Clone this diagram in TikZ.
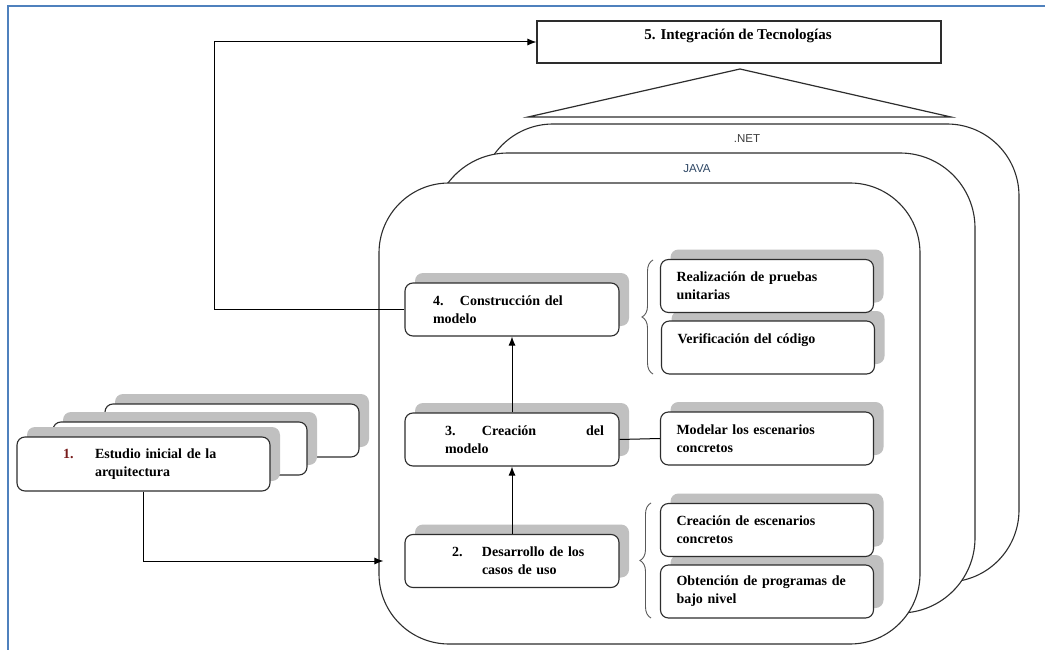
\documentclass[tikz,border=0pt]{standalone}
\usepackage{fontspec}
\setmainfont{Liberation Serif}
\newfontfamily\tagfont{Liberation Sans}
\usetikzlibrary{arrows.meta,shadows,decorations.pathreplacing,calc}

\definecolor{frameblue}{RGB}{79,129,189}
\definecolor{shade}{RGB}{192,192,192}
\definecolor{edge}{RGB}{45,45,45}
\definecolor{numred}{RGB}{120,28,28}
\definecolor{tagnet}{RGB}{60,60,60}
\definecolor{tagjava}{RGB}{45,70,100}

\newcommand\stepfont{\fontsize{14}{18}\selectfont\bfseries}

\begin{document}
\begin{tikzpicture}[x=1pt,y=-1pt,
  layer/.style={draw=edge, fill=white, line width=1.1pt},
  stepbox/.style={draw=edge, fill=white, line width=1.1pt, rounded corners=8pt,
    minimum height=53pt, inner xsep=0pt, inner ysep=0pt, align=left,
    font=\stepfont, text=black,
    drop shadow={shadow xshift=10pt, shadow yshift=10pt, fill=shade, opacity=1}},
  leftbox/.style={stepbox, text width=214pt, minimum width=214pt},
  rightbox/.style={stepbox, text width=181pt, minimum width=213pt, inner xsep=16pt},
  stackbox/.style={stepbox, text width=254pt, minimum width=254pt},
  titlebox/.style={draw=edge, fill=white, line width=1.1pt, minimum width=404pt,
    minimum height=42pt, inner sep=0pt},
  tag/.style={font=\tagfont\fontsize{11.5}{13}\selectfont, inner sep=0pt},
  arr/.style={draw=black, line width=1pt, -{Latex[length=9pt,width=7pt]}},
  link/.style={draw=black, line width=1pt},
  bracket/.style={draw=black!65, line width=0.9pt, decorate,
    decoration={brace, amplitude=11pt, aspect=0.5}}
]
\useasboundingbox (0,0) rectangle (1045,650);

% outer frame
\draw[frameblue, line width=2pt] (8,650) -- (8,6) -- (1045,6);

% roof over the technology layers
\draw[edge, line width=1.2pt, fill=white] (528,117) -- (740,69) -- (951,117) -- cycle;

% technology layers, back to front
\path[layer, rounded corners=72pt] (481,124) rectangle (1019,582);
\path[layer, rounded corners=75pt] (433,153) rectangle (975,613);
\path[layer, rounded corners=70pt] (379,183) rectangle (920,644);

\node[tag, text=tagnet] (lnet) at (747,139) {.NET};
\node[tag, text=tagjava] (ljava) at (697,169) {JAVA};

% integration box
\node[titlebox] (n5) at (739,42) {};
\node[font=\fontsize{15}{18}\selectfont\bfseries, inner sep=0pt] (t5) at (738,36)
  {5. Integración de Tecnologías};

% stacked study boxes
\node[stackbox] (s3) at (232,430.5) {};
\node[stackbox] (s2) at (180,448.5) {};
\node[stackbox, text width=253pt, minimum width=253pt, minimum height=54pt] (n1) at (143.5,464)
  {\hspace*{46pt}\makebox[32pt][l]{\textcolor{numred}{1.}}Estudio inicial de la\\
   \hspace*{78pt}arquitectura};

% main steps
\node[leftbox] (n2) at (512,561)
  {\hspace*{47pt}\makebox[30pt][l]{2.}Desarrollo de los\\
   \hspace*{77pt}casos de uso};
\node[leftbox] (n3) at (512,439.5)
  {\hspace*{40pt}\makebox[159pt][l]{\makebox[37pt][l]{3.}Creación\hfill del}\\
   \hspace*{40pt}modelo};
\node[leftbox] (n4) at (512,309.5)
  {\hspace*{28pt}\makebox[27pt][l]{4.}Construcción del\\
   \hspace*{28pt}modelo};

% activities
\node[rightbox] (r2) at (768,347.5) {Verificación del código\\ \mbox{}};
\node[rightbox] (r1) at (767,286) {Realización de pruebas\\ unitarias};
\node[rightbox] (r3) at (767,438.5) {Modelar los escenarios\\ concretos};
\node[rightbox] (r5) at (767,591.5) {Obtención de programas de\\ bajo nivel};
\node[rightbox] (r4) at (767,530) {Creación de escenarios\\ concretos};

% braces grouping activities
\draw[bracket] (653,374) -- (653,260);
\draw[bracket] (651,618) -- (651,503);

% connectors
\coordinate (e2) at ($(n2.west)+(-21,0)$);
\draw[arr] (n1.south) |- (e2);
\draw[arr] (n2.north) -- (n3.south);
\draw[arr] (n3.north) -- (n4.south);
\draw[link] (n3.east) -- (r3.west);
\draw[arr] (n4.west) -- ++(-190,0) |- (n5.west);
\end{tikzpicture}
\end{document}
